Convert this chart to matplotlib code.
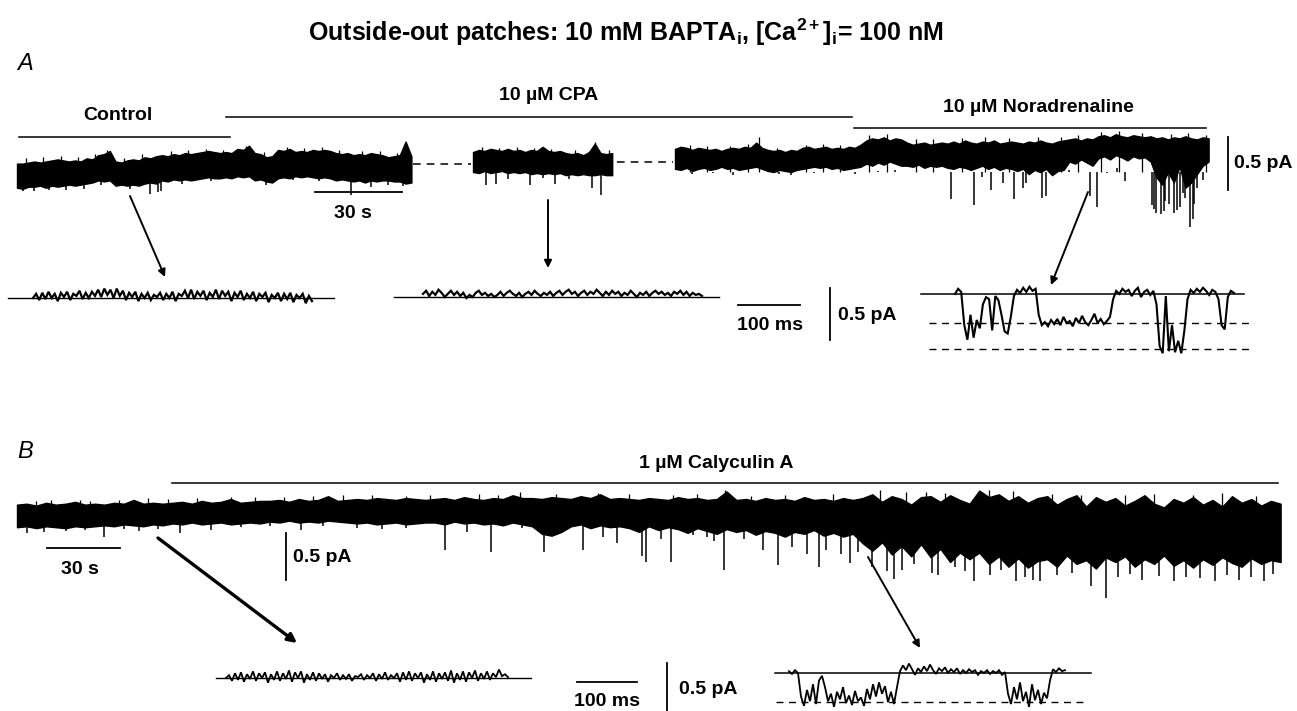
import matplotlib.pyplot as plt
import numpy as np

plt.rcParams['font.family'] = ['Liberation Sans', 'DejaVu Sans']
plt.rcParams['mathtext.fontset'] = 'custom'
plt.rcParams['mathtext.rm'] = 'Liberation Sans:bold'
plt.rcParams['mathtext.bf'] = 'Liberation Sans:bold'
plt.rcParams['mathtext.it'] = 'Liberation Sans:bold'

# ---------------- data (current in pA, time in s or ms) ----------------
# panel A, slow traces: envelope sampled every 2 s
A_STEP = 2.0
a1_hi = [0.08, 0.08, 0.09, 0.10, 0.09, 0.10, 0.11, 0.12, 0.11, 0.10,
         0.11, 0.10, 0.13, 0.12, 0.16, 0.17, 0.20, 0.10, 0.09, 0.11,
         0.12, 0.11, 0.14, 0.13, 0.15, 0.16, 0.15, 0.17, 0.16, 0.18,
         0.17, 0.18, 0.19, 0.20, 0.19, 0.18, 0.19, 0.18, 0.22, 0.21,
         0.25, 0.18, 0.17, 0.14, 0.15, 0.21, 0.20, 0.22, 0.19, 0.20,
         0.19, 0.21, 0.20, 0.21, 0.20, 0.18, 0.17, 0.18, 0.16, 0.17,
         0.16, 0.18, 0.17, 0.16, 0.14, 0.15, 0.16, 0.29, 0.15]
a1_lo = [-0.15, -0.16, -0.14, -0.14, -0.13, -0.15, -0.13, -0.14, -0.13, -0.12,
         -0.13, -0.12, -0.11, -0.10, -0.08, -0.09, -0.08, -0.13, -0.12, -0.13,
         -0.12, -0.13, -0.11, -0.10, -0.11, -0.08, -0.09, -0.07, -0.08, -0.07,
         -0.08, -0.07, -0.06, -0.05, -0.06, -0.06, -0.05, -0.06, -0.04, -0.05,
         -0.04, -0.08, -0.07, -0.09, -0.10, -0.06, -0.05, -0.06, -0.04, -0.05,
         -0.04, -0.05, -0.06, -0.05, -0.06, -0.08, -0.07, -0.08, -0.09, -0.08,
         -0.10, -0.08, -0.09, -0.08, -0.08, -0.09, -0.09, -0.11, -0.10]
a1_spikes = [(6, -0.18), (17, -0.17), (23, -0.16), (46, -0.21), (48.5, -0.19),
             (49.5, -0.18), (86, -0.12), (115, -0.22), (122, -0.14), (2, -0.18),
             (11, -0.17), (29, -0.12), (39, -0.16), (57, -0.11), (67, -0.09),
             (95, -0.08), (104, -0.09), (128, -0.12), (133, -0.13)]
a1_tips = [(3, 0.13), (9, 0.14), (15, 0.15), (21, 0.14), (27, 0.17), (31, 0.21),
           (37, 0.13), (43, 0.17), (53, 0.20), (59, 0.21), (65, 0.22), (71, 0.21),
           (79, 0.25), (85, 0.19), (93, 0.24), (99, 0.23), (105, 0.24), (111, 0.21),
           (119, 0.20), (125, 0.20), (131, 0.18)]

a2_hi = [0.19, 0.21, 0.20, 0.22, 0.21, 0.20, 0.22, 0.20, 0.21, 0.19,
         0.21, 0.20, 0.24, 0.20, 0.19, 0.20, 0.18, 0.17, 0.18, 0.16,
         0.19, 0.27, 0.18, 0.17, 0.18]
a2_lo = [0.00, -0.01, 0.01, -0.01, 0.00, 0.01, -0.01, 0.00, -0.01, 0.00,
         -0.02, -0.01, -0.02, -0.01, -0.02, -0.01, -0.03, -0.02, -0.03, -0.02,
         -0.03, -0.03, -0.02, -0.03, -0.03]
a2_spikes = [(4.6, -0.12), (8, -0.11), (12, -0.07), (19.6, -0.12), (24, -0.06),
             (28.3, -0.11), (33, -0.07), (41, -0.15), (44, -0.22)]
a2_tips = [(3, 0.24), (9, 0.23), (15, 0.24), (21, 0.23), (27, 0.22), (35, 0.21),
           (42, 0.29), (47, 0.21)]

a3_hi = [0.22, 0.24, 0.23, 0.21, 0.23, 0.22, 0.21, 0.22, 0.20, 0.22,
         0.23, 0.22, 0.24, 0.23, 0.28, 0.23, 0.21, 0.20, 0.21, 0.19,
         0.21, 0.20, 0.23, 0.24, 0.22, 0.23, 0.24, 0.22, 0.23, 0.22,
         0.24, 0.23, 0.26,
         0.30, 0.32, 0.31, 0.33, 0.30, 0.32, 0.31,
         0.28, 0.26, 0.27, 0.28, 0.26, 0.27, 0.28, 0.27,
         0.29, 0.27, 0.30, 0.28, 0.27, 0.29, 0.28, 0.30, 0.27, 0.28, 0.29,
         0.28, 0.27, 0.29, 0.28, 0.30, 0.28, 0.27, 0.29, 0.30,
         0.31, 0.32, 0.30, 0.32, 0.31,
         0.34, 0.35, 0.33, 0.36, 0.34, 0.33, 0.35, 0.34, 0.33, 0.34,
         0.32, 0.33, 0.31, 0.33, 0.32, 0.34, 0.32, 0.31, 0.33, 0.32]
a3_lo = [0.03, 0.02, 0.04, 0.01, 0.03, 0.04, 0.02, 0.03, 0.05, 0.03,
         0.04, 0.02, 0.03, 0.04, 0.05, 0.03, 0.01, 0.00, 0.02, 0.01,
         0.00, 0.02, 0.03, 0.04, 0.05, 0.04, 0.05, 0.03, 0.04, 0.02,
         0.03, 0.04, 0.05,
         0.08, 0.06, 0.09, 0.07, 0.10, 0.08, 0.06,
         0.06, 0.05, 0.07, 0.04, 0.06, 0.05, 0.06, 0.04,
         0.03, 0.05, 0.04, 0.02, 0.04, 0.06, 0.03, 0.05, 0.02, 0.04, 0.03,
         0.01, 0.03, -0.02, 0.02, 0.00, 0.03, -0.03, 0.01, 0.02,
         0.10, 0.08, 0.12, 0.09, 0.06,
         0.13, 0.15, 0.12, 0.16, 0.14, 0.11, 0.15, 0.13, 0.14, 0.10,
         -0.05, -0.12, 0.00, -0.10, 0.05, -0.15, -0.10, -0.02, 0.06, 0.10]
a3_spikes = [(6, -0.02), (13, -0.01), (36, -0.02), (40, -0.03), (62, -0.02),
             (20, -0.03), (48, -0.01), (70, 0.01), (76, 0.02), (86, 0.00),
             (95, -0.26), (103, -0.31), (106, -0.05), (109, -0.17), (113, -0.10),
             (117, -0.26), (120, -0.15), (121, -0.10), (126.5, -0.25), (128, -0.23),
             (136, 0.02), (143, -0.23), (145.5, -0.33), (149, -0.01), (152.5, 0.04),
             (155, -0.09), (159, 0.0), (164.5, -0.31), (165, -0.35), (166, -0.39),
             (167.5, -0.40), (168.5, -0.37), (169, -0.28), (170.5, -0.30), (172, -0.39),
             (173, -0.36), (174, -0.33), (175, -0.20), (176, -0.25), (177.6, -0.52),
             (178.5, -0.45), (179, -0.30), (180, -0.15), (182, -0.08)]
a3_tips = [(5, 0.26), (11, 0.25), (19, 0.25), (25, 0.27), (29, 0.33), (35, 0.23),
           (45, 0.26), (51, 0.27), (57, 0.26), (67, 0.35), (73, 0.36), (83, 0.31),
           (89, 0.31), (99, 0.32), (107, 0.33), (115, 0.32), (125, 0.33), (133, 0.33),
           (139, 0.35), (147, 0.38), (153, 0.39), (161, 0.37), (171, 0.36),
           (177, 0.37), (183, 0.35)]

# panel B, slow trace: envelope sampled every 4 s
B_STEP = 4.0
b_hi = [0.11, 0.12, 0.10, 0.13, 0.11, 0.12, 0.14, 0.11, 0.12,
        0.11, 0.13, 0.12, 0.16, 0.12, 0.13, 0.12,
        0.13, 0.14, 0.12, 0.15, 0.13, 0.14, 0.17, 0.13, 0.14, 0.15,
        0.15, 0.16, 0.14, 0.17, 0.15, 0.16, 0.20, 0.15, 0.16,
        0.17, 0.16, 0.18, 0.17, 0.16, 0.18, 0.17, 0.16,
        0.17, 0.18, 0.16, 0.19, 0.17, 0.16, 0.18, 0.17, 0.21, 0.18,
        0.18, 0.17, 0.19, 0.18, 0.17, 0.20, 0.18, 0.22, 0.17, 0.18,
        0.17, 0.16, 0.18, 0.17, 0.16, 0.19, 0.17, 0.18, 0.16, 0.17, 0.25,
        0.16, 0.17, 0.15, 0.18, 0.16, 0.17, 0.15, 0.19, 0.16, 0.17, 0.15, 0.18, 0.16,
        0.18, 0.22, 0.14, 0.20, 0.17, 0.11, 0.19,
        0.20, 0.14, 0.21, 0.16, 0.12,
        0.26, 0.19, 0.22, 0.15, 0.20, 0.13, 0.18,
        0.20, 0.11, 0.17, 0.21, 0.09, 0.19, 0.14,
        0.18, 0.10, 0.15, 0.21, 0.12, 0.08, 0.17, 0.13, 0.19,
        0.11, 0.16, 0.09, 0.20, 0.13, 0.17, 0.10, 0.15, 0.12]
b_lo = [-0.13, -0.12, -0.14, -0.12, -0.13, -0.14, -0.12, -0.13, -0.12,
        -0.11, -0.12, -0.10, -0.11, -0.12, -0.10, -0.11,
        -0.09, -0.10, -0.08, -0.10, -0.09, -0.08, -0.10, -0.09, -0.08, -0.09,
        -0.07, -0.08, -0.06, -0.08, -0.07, -0.08, -0.06, -0.07, -0.08,
        -0.09, -0.08, -0.10, -0.09, -0.08, -0.10, -0.09, -0.08,
        -0.08, -0.10, -0.07, -0.09, -0.08, -0.10, -0.09, -0.11, -0.08, -0.10,
        -0.12, -0.20, -0.22, -0.18, -0.12, -0.10, -0.14, -0.11, -0.13, -0.12,
        -0.14, -0.18, -0.12, -0.16, -0.13, -0.15, -0.19, -0.14, -0.17, -0.20, -0.15,
        -0.18, -0.16, -0.21, -0.17, -0.19, -0.23, -0.18, -0.20, -0.16, -0.22, -0.19, -0.23, -0.20,
        -0.30, -0.38, -0.29, -0.42, -0.33, -0.44, -0.31,
        -0.45, -0.36, -0.50, -0.40, -0.47,
        -0.40, -0.52, -0.44, -0.55, -0.46, -0.56, -0.49,
        -0.47, -0.55, -0.43, -0.52, -0.48, -0.57, -0.45,
        -0.50, -0.44, -0.55, -0.47, -0.52, -0.43, -0.54, -0.48, -0.56,
        -0.47, -0.53, -0.45, -0.51, -0.55, -0.46, -0.52, -0.48, -0.50]
b_spikes = [(4, -0.19), (11, -0.18), (20, -0.17), (36, -0.23), (50, -0.17), (67, -0.19),
            (80, -0.16), (117, -0.16), (150, -0.15), (28, -0.16), (44, -0.15),
            (58, -0.15), (92, -0.13), (104, -0.12), (126, -0.12), (140, -0.14), (160, -0.14),
            (176, -0.37), (185, -0.18), (195, -0.39), (208, -0.14),
            (217, -0.39), (233, -0.37), (241, -0.23), (247, -0.30),
            (257, -0.44), (259, -0.50), (265, -0.25), (269, -0.50), (278, -0.21),
            (284, -0.23), (287, -0.28), (291, -0.59), (299, -0.25),
            (304, -0.21), (307, -0.37), (313, -0.53), (319, -0.34), (325, -0.41),
            (330, -0.55), (333, -0.37), (339, -0.41), (343, -0.51), (346, -0.39),
            (352, -0.55), (358, -0.60), (361, -0.68), (364, -0.58), (369, -0.52),
            (376.5, -0.62), (379, -0.64), (386, -0.55), (390, -0.60),
            (394, -0.70), (400.5, -0.64), (405, -0.58),
            (411, -0.70), (415, -0.66), (418, -0.69), (421, -0.70), (428, -0.64),
            (434, -0.62), (442, -0.76), (448, -0.88), (453, -0.66), (458, -0.63),
            (463, -0.69), (470, -0.65), (476, -0.70), (481, -0.66), (487, -0.67),
            (493, -0.70), (498, -0.64), (503, -0.69), (508, -0.66), (513, -0.70),
            (517, -0.63)]
b_tips = [(8, 0.15), (14, 0.16), (26, 0.16), (30, 0.15), (42, 0.16), (54, 0.18),
          (62, 0.17), (74, 0.18), (88, 0.19), (98, 0.19), (110, 0.19), (122, 0.20),
          (134, 0.21), (146, 0.21), (160, 0.20), (170, 0.21), (190, 0.22), (198, 0.21),
          (207, 0.25), (222, 0.22), (239, 0.23), (252, 0.22), (270, 0.21), (280, 0.22),
          (291.5, 0.27), (302, 0.20), (316, 0.21), (336, 0.22), (355, 0.27), (366, 0.25),
          (374, 0.24), (382, 0.23), (400, 0.27), (410, 0.26), (426, 0.22), (438, 0.21),
          (456, 0.21), (468, 0.22), (484, 0.21), (496, 0.23), (510, 0.20)]

# fast (expanded) traces, sampled every 5 ms
F_STEP = 5.0
ctrl_a_fast = [0.00, 0.04, -0.02, 0.05, -0.01, 0.06, 0.00, 0.04, -0.03, 0.05,
               0.01, 0.06, -0.02, 0.04, 0.02, 0.07, -0.01, 0.05, 0.00, 0.06,
               0.02, 0.08, 0.01, 0.09, 0.03, 0.08, 0.00, 0.09, 0.02, 0.07,
               -0.02, 0.05, 0.01, 0.06, -0.03, 0.04, 0.00, 0.05, -0.02, 0.03,
               0.01, 0.05, -0.02, 0.04, 0.00, 0.06, -0.03, 0.04, 0.02, 0.07,
               0.00, 0.08, -0.01, 0.06, 0.02, 0.07, -0.02, 0.05, 0.01, 0.08,
               -0.01, 0.07, 0.02, 0.06, -0.03, 0.05, 0.01, 0.07, -0.02, 0.04,
               0.00, 0.06, -0.03, 0.04, 0.01, 0.05, -0.04, 0.03, 0.00, 0.05,
               -0.03, 0.04, -0.01, 0.05, -0.04, 0.03, 0.00, 0.04, -0.05, 0.02,
               -0.03]
cpa_a_fast = [0.03, 0.06, 0.01, 0.05, 0.02, 0.07, 0.04, 0.00, 0.03, 0.06,
              0.02, 0.05, 0.01, 0.04, -0.01, 0.02, 0.00, 0.04, 0.06, 0.02,
              0.04, 0.01, 0.03, 0.00, 0.02, 0.05, 0.01, 0.04, 0.06, 0.03,
              0.01, 0.04, 0.00, 0.03, 0.05, 0.02, 0.06, 0.03, 0.01, 0.04,
              0.02, 0.05, 0.01, 0.04, 0.06, 0.02, 0.05, 0.07, 0.03, 0.05,
              0.01, 0.04, 0.06, 0.02, 0.05, 0.03, 0.07, 0.04, 0.01, 0.05,
              0.02, 0.06, 0.03, 0.05, 0.01, 0.04, 0.02, 0.06, 0.03, 0.00,
              0.04, 0.02, 0.05, 0.01, 0.04, 0.06, 0.03, 0.05, 0.02, 0.04,
              0.01, 0.05, 0.03, 0.06, 0.02, 0.05, 0.01, 0.04, 0.02, 0.03,
              0.01]
na_a_fast = [0.00, 0.05, 0.02,
             -0.30, -0.44, -0.20, -0.42, -0.25, -0.33, -0.10, -0.03, -0.05, -0.35,
             -0.02, -0.06, -0.20, -0.36, -0.38, -0.22,
             -0.02, 0.04, 0.01, 0.06, 0.02, 0.07, 0.03, 0.05,
             -0.20, -0.30, -0.27, -0.31, -0.25, -0.29, -0.24, -0.30, -0.22, -0.28,
             -0.26, -0.31, -0.23, -0.28, -0.21, -0.27, -0.30, -0.25, -0.19, -0.28,
             -0.24, -0.29, -0.26, -0.22,
             -0.05, 0.03, 0.00, 0.05, 0.02, 0.04, -0.02, 0.03, 0.06, -0.03,
             0.02, 0.04, -0.01, 0.03,
             -0.10, -0.50, -0.57, -0.02, -0.55, -0.30, -0.56, -0.45, -0.57, -0.35, -0.05,
             0.04, 0.01, 0.05, 0.02, 0.06, 0.03, -0.01, 0.04, 0.02,
             -0.05, -0.30, -0.34,
             -0.03, 0.03, 0.01]
na_levels = [0.0, -0.28, -0.53]

ctrl_b_fast = [0.00, 0.03, -0.03, 0.05, -0.02, 0.06, -0.04, 0.04, -0.01, 0.07,
               -0.03, 0.05, 0.00, 0.06, -0.05, 0.04, -0.02, 0.07, -0.03, 0.05,
               -0.01, 0.08, -0.04, 0.06, 0.00, 0.07, -0.05, 0.04, -0.02, 0.06,
               -0.03, 0.05, -0.01, 0.04, -0.04, 0.03, 0.00, 0.05, -0.02, 0.03,
               -0.01, 0.04, -0.03, 0.02, 0.01, 0.04, -0.02, 0.03, 0.00, 0.05,
               -0.03, 0.04, -0.01, 0.06, -0.02, 0.03, 0.00, 0.05, -0.04, 0.06,
               -0.02, 0.07, -0.03, 0.05, 0.00, 0.06, -0.05, 0.04, -0.02, 0.07,
               -0.04, 0.05, -0.01, 0.06, -0.03, 0.08, -0.05, 0.05, -0.02, 0.07,
               -0.04, 0.06, 0.00, 0.08, -0.03, 0.05, -0.01, 0.07, -0.02, 0.05,
               0.01, 0.09, 0.02, 0.04, 0.01]
caly_b_fast = [0.02, -0.01, 0.03, 0.00,
               -0.25, -0.35, -0.18, -0.30, -0.12, -0.33, -0.08, -0.03, -0.15,
               -0.30, -0.22, -0.36, -0.20, -0.28, -0.15, -0.32, -0.24, -0.34, -0.19,
               -0.30, -0.26, -0.35, -0.17, -0.28, -0.12, -0.25, -0.10, -0.22, -0.14,
               -0.31, -0.20, -0.33, -0.15,
               0.02, 0.08, 0.03, 0.10, 0.04, -0.02, 0.05, 0.01, 0.07, 0.02,
               0.09, 0.03, -0.01, 0.05, 0.02, 0.06, 0.00, 0.04, 0.01, 0.05,
               -0.01, 0.03, 0.00, 0.04, 0.01, 0.03, -0.02, 0.02, 0.00, 0.03,
               -0.01, 0.02, 0.00, 0.03, -0.02, 0.01,
               -0.22, -0.33, -0.15, -0.28, -0.10, -0.30, -0.20, -0.36, -0.12, -0.29,
               -0.18, -0.33, -0.21, -0.27, -0.08,
               0.04, 0.01, 0.05, 0.02, 0.03]
caly_levels = [0.0, -0.31]

# ---------------- layout (pixels) ----------------
W, H = 1297, 711
# x0, y0 (zero current), px per time unit, px per pA
LAY_A1 = (17, 172, 2.9, 105)
LAY_A2 = (473, 172, 2.9, 105)
LAY_A3 = (675, 172, 2.9, 105)
LAY_B = (17, 515, 2.43, 94)
LAY_CTRL_A = (33, 298, 0.62, 104)
LAY_CPA_A = (423, 297, 0.62, 104)
LAY_NA_A = (955, 294, 0.62, 104)
LAY_CTRL_B = (226, 678, 0.60, 94)
LAY_CALY_B = (789, 673, 0.60, 94)


def place(t, i, lay):
    x0, y0, sx, sy = lay
    return x0 + np.asarray(t, float) * sx, y0 - np.asarray(i, float) * sy


def strokes(ax, pts, lay, lw):
    st = [p[0] for p in pts]
    sv = [p[1] for p in pts]
    xs, ys = place(st, sv, lay)
    _, y0 = place(st, np.zeros(len(st)), lay)
    ax.vlines(xs, y0, ys, color='black', lw=lw)


def slow_trace(ax, hi, lo, spikes, tips, step, lay):
    t = np.arange(len(hi)) * step
    x, yh = place(t, hi, lay)
    _, yl = place(t, lo, lay)
    ax.fill_between(x, yh, yl, color='black', lw=1.0, edgecolor='black')
    strokes(ax, spikes, lay, 1.1)
    strokes(ax, tips, lay, 0.9)


def fast_trace(ax, vals, lay, lw=1.6):
    t = np.arange(len(vals)) * F_STEP
    x, y = place(t, vals, lay)
    ax.plot(x, y, color='black', lw=lw, solid_joinstyle='miter')


fig = plt.figure(figsize=(W / 100, H / 100), dpi=100)
ax = fig.add_axes([0, 0, 1, 1])
ax.set_xlim(0, W)
ax.set_ylim(H, 0)
ax.axis('off')

bold = dict(fontweight='bold', fontsize=14, color='black')

# title and panel letters
ax.text(626, 32, r'Outside-out patches: 10 mM BAPTA$_\mathbf{i}$, [Ca$^\mathbf{2+}$]$_\mathbf{i}$= 100 nM',
        ha='center', va='center', fontsize=18, fontweight='bold')
ax.text(17, 63, 'A', fontsize=17, style='italic', ha='left', va='center')
ax.text(17, 452, 'B', fontsize=17, style='italic', ha='left', va='center')

# ---------- panel A ----------
ax.plot([19, 230], [137, 137], color='k', lw=1.1)
ax.text(118, 116, 'Control', ha='center', va='center', **bold)
ax.plot([226, 852], [117, 117], color='k', lw=1.1)
ax.text(549, 96, '10 \u00b5M CPA', ha='center', va='center', **bold)
ax.plot([854, 1206], [128, 128], color='k', lw=1.1)
ax.text(1038, 108, '10 \u00b5M Noradrenaline', ha='center', va='center', **bold)

slow_trace(ax, a1_hi, a1_lo, a1_spikes, a1_tips, A_STEP, LAY_A1)
slow_trace(ax, a2_hi, a2_lo, a2_spikes, a2_tips, A_STEP, LAY_A2)
slow_trace(ax, a3_hi, a3_lo, a3_spikes, a3_tips, A_STEP, LAY_A3)
ax.plot([413, 471], [164, 164], color='k', lw=1.1, dashes=(5, 4))
ax.plot([617, 673], [162, 162], color='k', lw=1.1, dashes=(5, 4))

# scale bars, A
ax.plot([315, 402], [192, 192], color='k', lw=1.3)
ax.text(353, 213, '30 s', ha='center', va='center', **bold)
ax.plot([1228, 1228], [137, 190], color='k', lw=1.3)
ax.text(1234, 163, '0.5 pA', ha='left', va='center', **bold)

arrow = dict(arrowstyle='-|>', color='k', lw=1.4, mutation_scale=11, shrinkA=0, shrinkB=0)
ax.annotate('', xy=(165, 277), xytext=(130, 196), arrowprops=arrow)
ax.annotate('', xy=(548, 268), xytext=(548, 200), arrowprops=arrow)
ax.annotate('', xy=(1051, 285), xytext=(1088, 192), arrowprops=arrow)

# expanded traces, A
ax.plot([8, 334], [298, 298], color='k', lw=1.0)
fast_trace(ax, ctrl_a_fast, LAY_CTRL_A)
ax.plot([394, 719], [297, 297], color='k', lw=1.0)
fast_trace(ax, cpa_a_fast, LAY_CPA_A)
for k, lev in enumerate(na_levels):
    _, yl = place(0, lev, LAY_NA_A)
    if k == 0:
        ax.plot([921, 1244], [yl, yl], color='k', lw=1.1)
    else:
        ax.plot([929, 1252], [yl, yl], color='k', lw=1.0, dashes=(5, 4))
fast_trace(ax, na_a_fast, LAY_NA_A, lw=1.5)

ax.plot([738, 800], [305, 305], color='k', lw=1.3)
ax.text(770, 326, '100 ms', ha='center', va='center', **bold)
ax.plot([830, 830], [288, 340], color='k', lw=1.3)
ax.text(838, 315, '0.5 pA', ha='left', va='center', **bold)

# ---------- panel B ----------
ax.plot([172, 1278], [483, 483], color='k', lw=1.1)
ax.text(716, 463, '1 \u00b5M Calyculin A', ha='center', va='center', **bold)
slow_trace(ax, b_hi, b_lo, b_spikes, b_tips, B_STEP, LAY_B)

ax.plot([47, 120], [548, 548], color='k', lw=1.3)
ax.text(80, 569, '30 s', ha='center', va='center', **bold)
ax.plot([286, 286], [533, 580], color='k', lw=1.3)
ax.text(293, 558, '0.5 pA', ha='left', va='center', **bold)

ax.annotate('', xy=(297, 643), xytext=(158, 538),
            arrowprops=dict(arrowstyle='-|>', color='k', lw=2.4, mutation_scale=13,
                            shrinkA=0, shrinkB=0))
ax.annotate('', xy=(920, 648), xytext=(868, 557), arrowprops=arrow)

ax.plot([216, 531], [678, 678], color='k', lw=1.0)
fast_trace(ax, ctrl_b_fast, LAY_CTRL_B, lw=1.3)
for k, lev in enumerate(caly_levels):
    _, yl = place(0, lev, LAY_CALY_B)
    if k == 0:
        ax.plot([775, 1091], [yl, yl], color='k', lw=1.1)
    else:
        ax.plot([776, 1086], [yl, yl], color='k', lw=1.0, dashes=(5, 4))
fast_trace(ax, caly_b_fast, LAY_CALY_B, lw=1.3)

ax.plot([577, 637], [682, 682], color='k', lw=1.3)
ax.text(607, 701, '100 ms', ha='center', va='center', **bold)
ax.plot([667, 667], [663, 715], color='k', lw=1.3)
ax.text(679, 690, '0.5 pA', ha='left', va='center', **bold)

fig.savefig('out.png', dpi=100)
